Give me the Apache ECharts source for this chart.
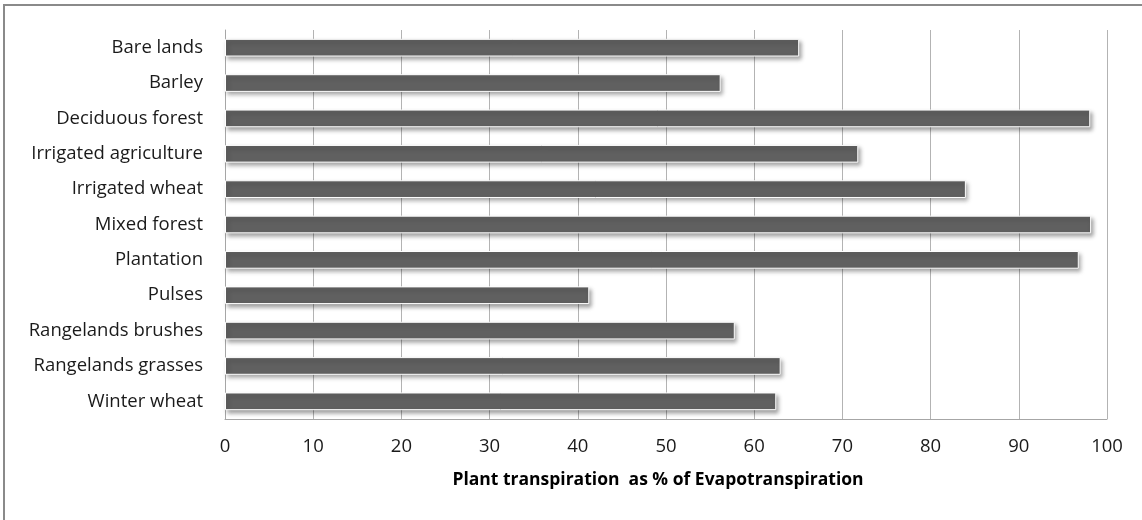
<!DOCTYPE html>
<html>
<head>
<meta charset="utf-8">
<script src="https://cdn.jsdelivr.net/npm/echarts@6/dist/echarts.min.js"></script>
<style>
html,body{margin:0;padding:0;background:#fff;}
#c{width:1142px;height:520px;}
</style>
</head>
<body>
<div id="c"></div>
<script>
const categories = ["Bare lands","Barley","Deciduous forest","Irrigated agriculture","Irrigated wheat","Mixed forest","Plantation","Pulses","Rangelands brushes","Rangelands grasses","Winter wheat"];
const values = [65.1, 56.2, 98.1, 71.8, 84.0, 98.2, 96.8, 41.3, 57.8, 63.0, 62.5];
const xTicks = [0,10,20,30,40,50,60,70,80,90,100];
const axisTitle = "Plant transpiration  as % of Evapotranspiration";

const chart = echarts.init(document.getElementById('c'), null, {renderer:'canvas'});
const font = "Open Sans";
chart.setOption({
  animation:false,
  backgroundColor:'#fff',
  graphic:[{type:'rect', shape:{x:4,y:5,width:1300,height:700}, style:{fill:'none', stroke:'#8a8a8a', lineWidth:2}, silent:true, z:-1}],
  grid:{left:225, right:35, top:30, bottom:101},
  xAxis:{
    type:'value', min:xTicks[0], max:xTicks[xTicks.length-1], interval:10,
    axisLine:{show:true, lineStyle:{color:'#a6a6a6', width:1}},
    axisTick:{show:false},
    splitLine:{show:true, lineStyle:{color:'#b3b3b3', width:1}},
    axisLabel:{color:'#1a1a1a', fontFamily:font, fontSize:18.5, margin:18},
    name:axisTitle, nameLocation:'middle', nameGap:52,
    nameTextStyle:{color:'#000', fontFamily:font, fontWeight:'bold', fontSize:17.5, padding:[0,16,0,0]}
  },
  yAxis:{
    type:'category', data:categories, inverse:true,
    axisLine:{show:true, lineStyle:{color:'#a6a6a6', width:1}},
    axisTick:{show:false},
    axisLabel:{color:'#1a1a1a', fontFamily:font, fontSize:18.5, margin:22}
  },
  series:[{
    type:'bar', data:values, barWidth:'50%',
    itemStyle:{color:'#606060', borderColor:'#ffffff', borderWidth:1,
      shadowColor:'rgba(0,0,0,0.35)', shadowBlur:4, shadowOffsetX:2, shadowOffsetY:3}
  }]
});
</script>
</body>
</html>
